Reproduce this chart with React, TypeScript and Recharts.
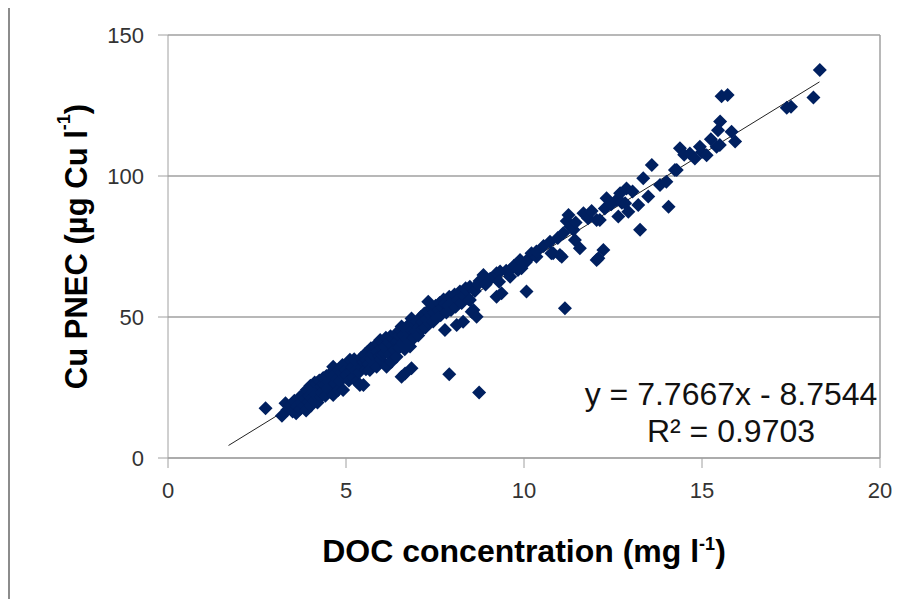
import {
  ScatterChart,
  Scatter,
  XAxis,
  YAxis,
  CartesianGrid,
  ReferenceLine,
} from 'recharts';

// DOC (mg/l) vs Cu PNEC (ug Cu/l)
const lowBand: [number, number][] = [
  [3.3, 19.4], [3.35, 17.0], [3.45, 18.8], [3.5, 16.5], [3.55, 20.3], [3.6, 15.9], [3.62, 18.2],
  [3.7, 21.5], [3.72, 17.5], [3.75, 19.6], [3.8, 22.6], [3.82, 18.5], [3.85, 20.9], [3.88, 16.8],
  [3.9, 24.2], [3.95, 19.8], [3.98, 22.0], [4.0, 25.6], [4.02, 18.6], [4.05, 21.4], [4.08, 23.7],
  [4.1, 20.2], [4.12, 26.8], [4.15, 22.5], [4.18, 26.5], [4.2, 19.7], [4.22, 24.4], [4.25, 27.5],
  [4.28, 21.6], [4.3, 25.3], [4.33, 23.2], [4.36, 28.4], [4.4, 26.0], [4.42, 22.1], [4.45, 29.1],
  [4.48, 24.6], [4.5, 27.2], [4.53, 25.3], [4.56, 30.0], [4.6, 28.1], [4.62, 23.0], [4.64, 32.4],
  [4.64, 22.3], [4.68, 26.4], [4.7, 29.9], [4.74, 28.0], [4.78, 24.1], [4.8, 31.5], [4.83, 27.3],
  [4.86, 30.2], [4.9, 33.0], [4.92, 24.1], [4.95, 28.8], [4.98, 31.2], [5.02, 29.4], [5.05, 33.6],
  [5.08, 27.5], [5.11, 34.8], [5.14, 30.6], [5.18, 32.4], [5.2, 28.5], [5.23, 35.0], [5.26, 31.0],
  [5.3, 27.1], [5.33, 33.8], [5.36, 30.3], [5.39, 25.9], [5.42, 35.5], [5.45, 32.2], [5.49, 25.9],
  [5.5, 34.0],
];

const midBand: [number, number][] = [
  [5.53, 36.8], [5.56, 31.5], [5.58, 34.8], [5.6, 37.6], [5.63, 33.4], [5.67, 31.2], [5.7, 38.9],
  [5.72, 35.1], [5.75, 36.9], [5.77, 33.0], [5.8, 39.6], [5.83, 35.8], [5.86, 32.4], [5.88, 37.8],
  [5.9, 40.5], [5.93, 36.2], [5.96, 41.8], [5.98, 34.8], [6.0, 38.9], [6.03, 36.5], [6.06, 40.6],
  [6.08, 37.3], [6.1, 39.5], [6.12, 42.6], [6.14, 32.4], [6.16, 38.2], [6.2, 41.0], [6.22, 36.7],
  [6.25, 43.2], [6.28, 34.1], [6.3, 39.9], [6.33, 42.1], [6.36, 38.4], [6.4, 44.0], [6.42, 35.9],
  [6.45, 41.4], [6.48, 43.4], [6.5, 39.2], [6.53, 45.3], [6.56, 46.6], [6.58, 40.8], [6.62, 43.6],
  [6.65, 38.6], [6.68, 45.8], [6.7, 42.1], [6.74, 47.0], [6.77, 44.0], [6.8, 39.5], [6.84, 49.5],
  [6.86, 45.2], [6.9, 42.5], [6.93, 47.6], [6.96, 44.9], [7.0, 48.4], [7.03, 43.4], [7.06, 46.5],
  [7.1, 50.0], [7.13, 45.6], [7.16, 48.2], [7.2, 51.2], [7.23, 46.3], [7.26, 49.4], [7.3, 52.1],
  [7.34, 47.8], [7.38, 50.5], [7.42, 53.0], [7.45, 48.4], [7.48, 51.6],
];

const upperMidBand: [number, number][] = [
  [7.52, 54.0], [7.55, 49.8], [7.6, 52.4], [7.63, 55.0], [7.66, 50.6], [7.7, 53.3], [7.74, 56.2],
  [7.78, 45.4], [7.78, 54.9], [7.82, 51.6], [7.86, 54.1], [7.9, 57.2], [7.95, 52.5], [8.0, 55.6],
  [8.05, 58.0], [8.08, 53.6], [8.11, 47.2], [8.14, 56.2], [8.2, 59.0], [8.25, 55.0], [8.29, 48.3],
  [8.32, 57.6], [8.36, 60.2], [8.39, 59.6], [8.44, 56.4], [8.48, 60.7], [8.48, 56.0], [8.53, 51.9],
  [8.58, 52.5], [8.62, 59.2], [8.67, 50.1], [8.7, 61.5], [8.75, 62.8], [8.86, 64.9], [8.92, 61.5],
  [9.05, 63.6], [9.23, 65.5], [9.23, 57.2], [9.33, 66.1], [9.37, 58.4], [9.3, 62.5],
];

const upperBand: [number, number][] = [
  [9.5, 66.4], [9.61, 64.3], [9.61, 66.7], [9.72, 68.2], [9.83, 66.7], [9.89, 70.2], [9.93, 67.3],
  [10.05, 69.4], [10.12, 70.6], [10.21, 72.6], [10.35, 71.4], [10.35, 73.2], [10.55, 75.2],
  [10.73, 76.7], [10.77, 72.6], [10.82, 72.6], [10.95, 78.0], [11.01, 72.0], [11.06, 71.4],
  [11.1, 79.7], [11.2, 84.0], [11.25, 86.2], [11.3, 82.0], [11.39, 80.9], [11.43, 77.3],
  [11.45, 83.5], [11.57, 74.4], [11.67, 86.8], [11.8, 85.0], [11.9, 87.6], [12.04, 84.4],
  [12.04, 70.2], [12.13, 84.4], [12.23, 73.8], [12.27, 88.5], [12.32, 92.1], [12.45, 90.0],
  [12.6, 91.5], [12.65, 85.6], [12.7, 93.9], [12.75, 90.5], [12.84, 90.3], [12.88, 95.6],
  [12.93, 87.3], [13.05, 94.5], [13.21, 89.7], [13.35, 99.2], [13.49, 92.7], [13.59, 103.9],
  [13.82, 96.8], [14.0, 98.0],
];

const highBand: [number, number][] = [
  [14.24, 102.1], [14.29, 102.1], [14.38, 109.8], [14.5, 107.5], [14.66, 108.0], [14.8, 106.2],
  [14.94, 110.4], [15.0, 108.5], [15.13, 107.4], [15.25, 113.0], [15.41, 110.4], [15.5, 111.0],
  [15.51, 119.3], [15.45, 116.2], [15.55, 128.3], [15.72, 128.7], [15.83, 115.7], [15.93, 112.2],
  [17.38, 124.2], [17.5, 124.6], [18.13, 127.8], [18.31, 137.6],
];

const outliers: [number, number][] = [
  [2.74, 17.6], [3.2, 15.0], [7.9, 29.7], [8.74, 23.2], [6.56, 28.8], [6.84, 31.8],
  [11.15, 53.1], [10.07, 59.0], [13.26, 80.9], [14.06, 89.1], [12.09, 70.8], [7.31, 55.4],
  [6.66, 30.0],
];

const xTicks = [0, 5, 10, 15, 20];
const yTicks = [0, 50, 100, 150];

// Excel linear trendline
const trendSlope = 7.7667;
const trendIntercept = -8.7544;
const trendStart = 1.7;
const trendEnd = 18.3;
const equationText = 'y = 7.7667x - 8.7544';
const r2Text = 'R² = 0.9703';

const points = [...lowBand, ...midBand, ...upperMidBand, ...upperBand, ...highBand, ...outliers].map(
  ([x, y]) => ({ x, y })
);

const navy = '#002060';
const gray = '#a0a0a0';
const font = '"Liberation Sans", Arial, sans-serif';

const Diamond = (props: any) => {
  const { cx, cy } = props;
  const r = 7;
  return (
    <polygon
      points={`${cx},${cy - r} ${cx + r},${cy} ${cx},${cy + r} ${cx - r},${cy}`}
      fill={navy}
    />
  );
};

const XTitle = (props: any) => {
  const { viewBox } = props;
  const cx = viewBox.x + viewBox.width / 2;
  return (
    <text x={cx} y={viewBox.y + 104} textAnchor="middle" fontFamily={font} fontWeight="bold" fontSize={32} fill="#000">
      <tspan>DOC concentration (mg l</tspan>
      <tspan fontSize={18} dy={-12}>-1</tspan>
      <tspan dy={12}>)</tspan>
    </text>
  );
};

const YTitle = (props: any) => {
  const { viewBox } = props;
  const cx = viewBox.x + 66;
  const cy = viewBox.y + viewBox.height / 2;
  return (
    <text
      x={cx}
      y={cy}
      transform={`rotate(-90, ${cx}, ${cy})`}
      textAnchor="middle"
      dominantBaseline="central"
      fontFamily={font}
      fontWeight="bold"
      fontSize={31}
      fill="#000"
    >
      <tspan>Cu PNEC (µg Cu l</tspan>
      <tspan fontSize={18} dy={-12}>-1</tspan>
      <tspan dy={12}>)</tspan>
    </text>
  );
};

export default function App() {
  return (
    <div
      style={{
        position: 'relative',
        marginTop: -2,
        width: 900,
        height: 591,
        borderLeft: '2px solid #8c8c8c',
        borderTop: '2px solid #8c8c8c',
        background: '#fff',
      }}
    >
      <ScatterChart width={890} height={591} margin={{ top: 27, right: 20, bottom: 0, left: 0 }}>
        <CartesianGrid vertical={false} stroke={gray} strokeWidth={1.5} />
        <XAxis
          type="number"
          dataKey="x"
          domain={[0, 20]}
          ticks={xTicks}
          height={141}
          tickSize={10}
          tickMargin={14}
          stroke={gray}
          tick={{ fill: '#333', fontSize: 22, fontFamily: font }}
          label={<XTitle />}
        />
        <YAxis
          type="number"
          dataKey="y"
          domain={[0, 150]}
          ticks={yTicks}
          width={158}
          tickSize={10}
          tickMargin={14}
          stroke={gray}
          tick={{ fill: '#333', fontSize: 22, fontFamily: font }}
          label={<YTitle />}
        />
        <ReferenceLine x={20} stroke={gray} strokeWidth={1.5} />
        <Scatter data={points} shape={<Diamond />} isAnimationActive={false} />
        <ReferenceLine
          segment={[
            { x: trendStart, y: trendSlope * trendStart + trendIntercept },
            { x: trendEnd, y: trendSlope * trendEnd + trendIntercept },
          ]}
          stroke="#222"
          strokeWidth={1}
        />
      </ScatterChart>
      <div
        style={{
          position: 'absolute',
          left: 721,
          top: 368,
          transform: 'translateX(-50%)',
          textAlign: 'center',
          whiteSpace: 'nowrap',
          fontFamily: font,
          fontSize: 32,
          lineHeight: '37px',
          color: '#111',
        }}
      >
        <div>{equationText}</div>
        <div>{r2Text}</div>
      </div>
    </div>
  );
}
